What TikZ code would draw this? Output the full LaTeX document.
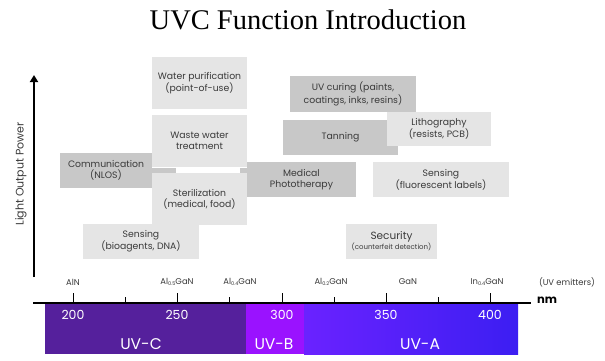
\documentclass[tikz,border=0pt]{standalone}
\usepackage{fontspec}
\setmainfont{Liberation Serif}
\newfontfamily\gf{Poppins}
\usetikzlibrary{arrows.meta}
\definecolor{lgray}{HTML}{E5E5E5}
\definecolor{mgray}{HTML}{C8C8C8}
\definecolor{txt}{HTML}{3A3A3A}
\definecolor{uvc}{HTML}{55209C}
\definecolor{uvb}{HTML}{9A12FF}
\definecolor{uvaL}{HTML}{6A22FF}
\definecolor{uvaR}{HTML}{3C1EF2}
\newcommand{\sbs}[1]{\raisebox{-1.8pt}{\fontsize{5}{5}\selectfont #1}}
\begin{document}
\begin{tikzpicture}[x=1pt,y=-1pt,
  boxbase/.style={inner sep=0pt, align=center, text=txt, font=\gf\fontsize{9.3}{11}\selectfont},
  lbox/.style={boxbase, fill=lgray},
  mbox/.style={boxbase, fill=mgray},
  elab/.style={text=txt, font=\gf\fontsize{8.4}{9}\selectfont, inner sep=0pt},
  wlab/.style={text=white, font=\gf\fontsize{12.5}{14}\selectfont, inner sep=0pt},
  blab/.style={text=white, font=\gf\fontsize{15.5}{17}\selectfont, inner sep=0pt}]
\useasboundingbox (0,0) rectangle (605,361);
\fill[white] (0,0) rectangle (605,361);
% title
\node[font=\fontsize{28.5}{32}\selectfont, inner sep=0pt] (title) at (308,20) {UVC Function Introduction};
% connector strips
\fill[mgray] (152,168) rectangle (176,173);
\fill[mgray] (240,168) rectangle (247,173);
% boxes
\node[lbox, minimum width=95pt, minimum height=52pt] (water) at (199.5,83) {Water purification\\(point-of-use)};
\node[lbox, minimum width=95pt, minimum height=52pt] (waste) at (199.5,141) {Waste water\\treatment};
\node[mbox, minimum width=92pt, minimum height=35pt] (comm) at (106,170.5) {Communication\\(NLOS)};
\node[lbox, minimum width=95pt, minimum height=52pt] (steril) at (199.5,199) {Sterilization\\(medical, food)};
\node[lbox, minimum width=116pt, minimum height=35pt] (sensbio) at (141,241.5) {Sensing\\(bioagents, DNA)};
\node[mbox, minimum width=126pt, minimum height=36pt] (curing) at (353,94) {UV curing (paints,\\coatings, inks, resins)};
\node[mbox, minimum width=115pt, minimum height=35pt] (tanning) at (340.5,137.5) {Tanning};
\node[lbox, minimum width=104pt, minimum height=34pt] (litho) at (439,129) {Lithography\\(resists, PCB)};
\node[mbox, minimum width=109pt, minimum height=35pt] (medical) at (301.5,179.5) {Medical\\Phototherapy};
\node[lbox, minimum width=136pt, minimum height=35pt] (sensfl) at (441,179.5) {Sensing\\(fluorescent labels)};
\node[lbox, minimum width=91pt, minimum height=35pt] (security) at (391.5,241.5) {{\fontsize{10.5}{12}\selectfont Security}\\[-1pt]{\fontsize{7}{8}\selectfont(counterfeit detection)}};
% spectrum bar
\fill[uvc] (45,303) rectangle (246,354);
\fill[uvb] (246,303) rectangle (304,354);
\shade[left color=uvaL, right color=uvaR] (304,303) rectangle (518,354);
% axes
\coordinate (yb) at (34,277);
\coordinate (yt) at (34,75);
\draw[line width=2.6pt, -{Triangle[width=8pt,length=7pt]}] (yb) -- (yt);
\node[rotate=90, text=txt, font=\gf\fontsize{11}{12}\selectfont, inner sep=0pt] (ylab) at (21,174) {Light Output Power};
\coordinate (xl) at (33,302.5);
\coordinate (xr) at (531,302.5);
\draw[line width=2pt] (xl) -- (xr);
\node[font=\gf\bfseries\fontsize{11.5}{12}\selectfont, inner sep=0pt] (nm) at (547,300) {nm};
% ticks
\foreach \x in {73,177,282,386,490} \draw[line width=1pt] (\x,293) -- (\x,302);
\foreach \x in {125,229,334,438} \draw[line width=1pt] (\x,297) -- (\x,302);
% emitter labels
\node[elab] (aln) at (73,282) {AlN};
\node[elab] (al5) at (177,282) {Al\sbs{0.5}GaN};
\node[elab] (al4) at (240,282) {Al\sbs{0.4}GaN};
\node[elab] (al2) at (331,282) {Al\sbs{0.2}GaN};
\node[elab] (gan) at (408,282) {GaN};
\node[elab] (in4) at (487,282) {In\sbs{0.4}GaN};
\node[elab] (emit) at (567,282) {(UV emitters)};
% wavelength numbers
\node[wlab] (n200) at (73,315) {200};
\node[wlab] (n250) at (177,315) {250};
\node[wlab] (n300) at (282,315) {300};
\node[wlab] (n350) at (386,315) {350};
\node[wlab] (n400) at (490,315) {400};
% bands
\node[blab] (bc) at (141,344) {UV-C};
\node[blab] (bb) at (274,344) {UV-B};
\node[blab] (ba) at (420,344) {UV-A};
\end{tikzpicture}
\end{document}
